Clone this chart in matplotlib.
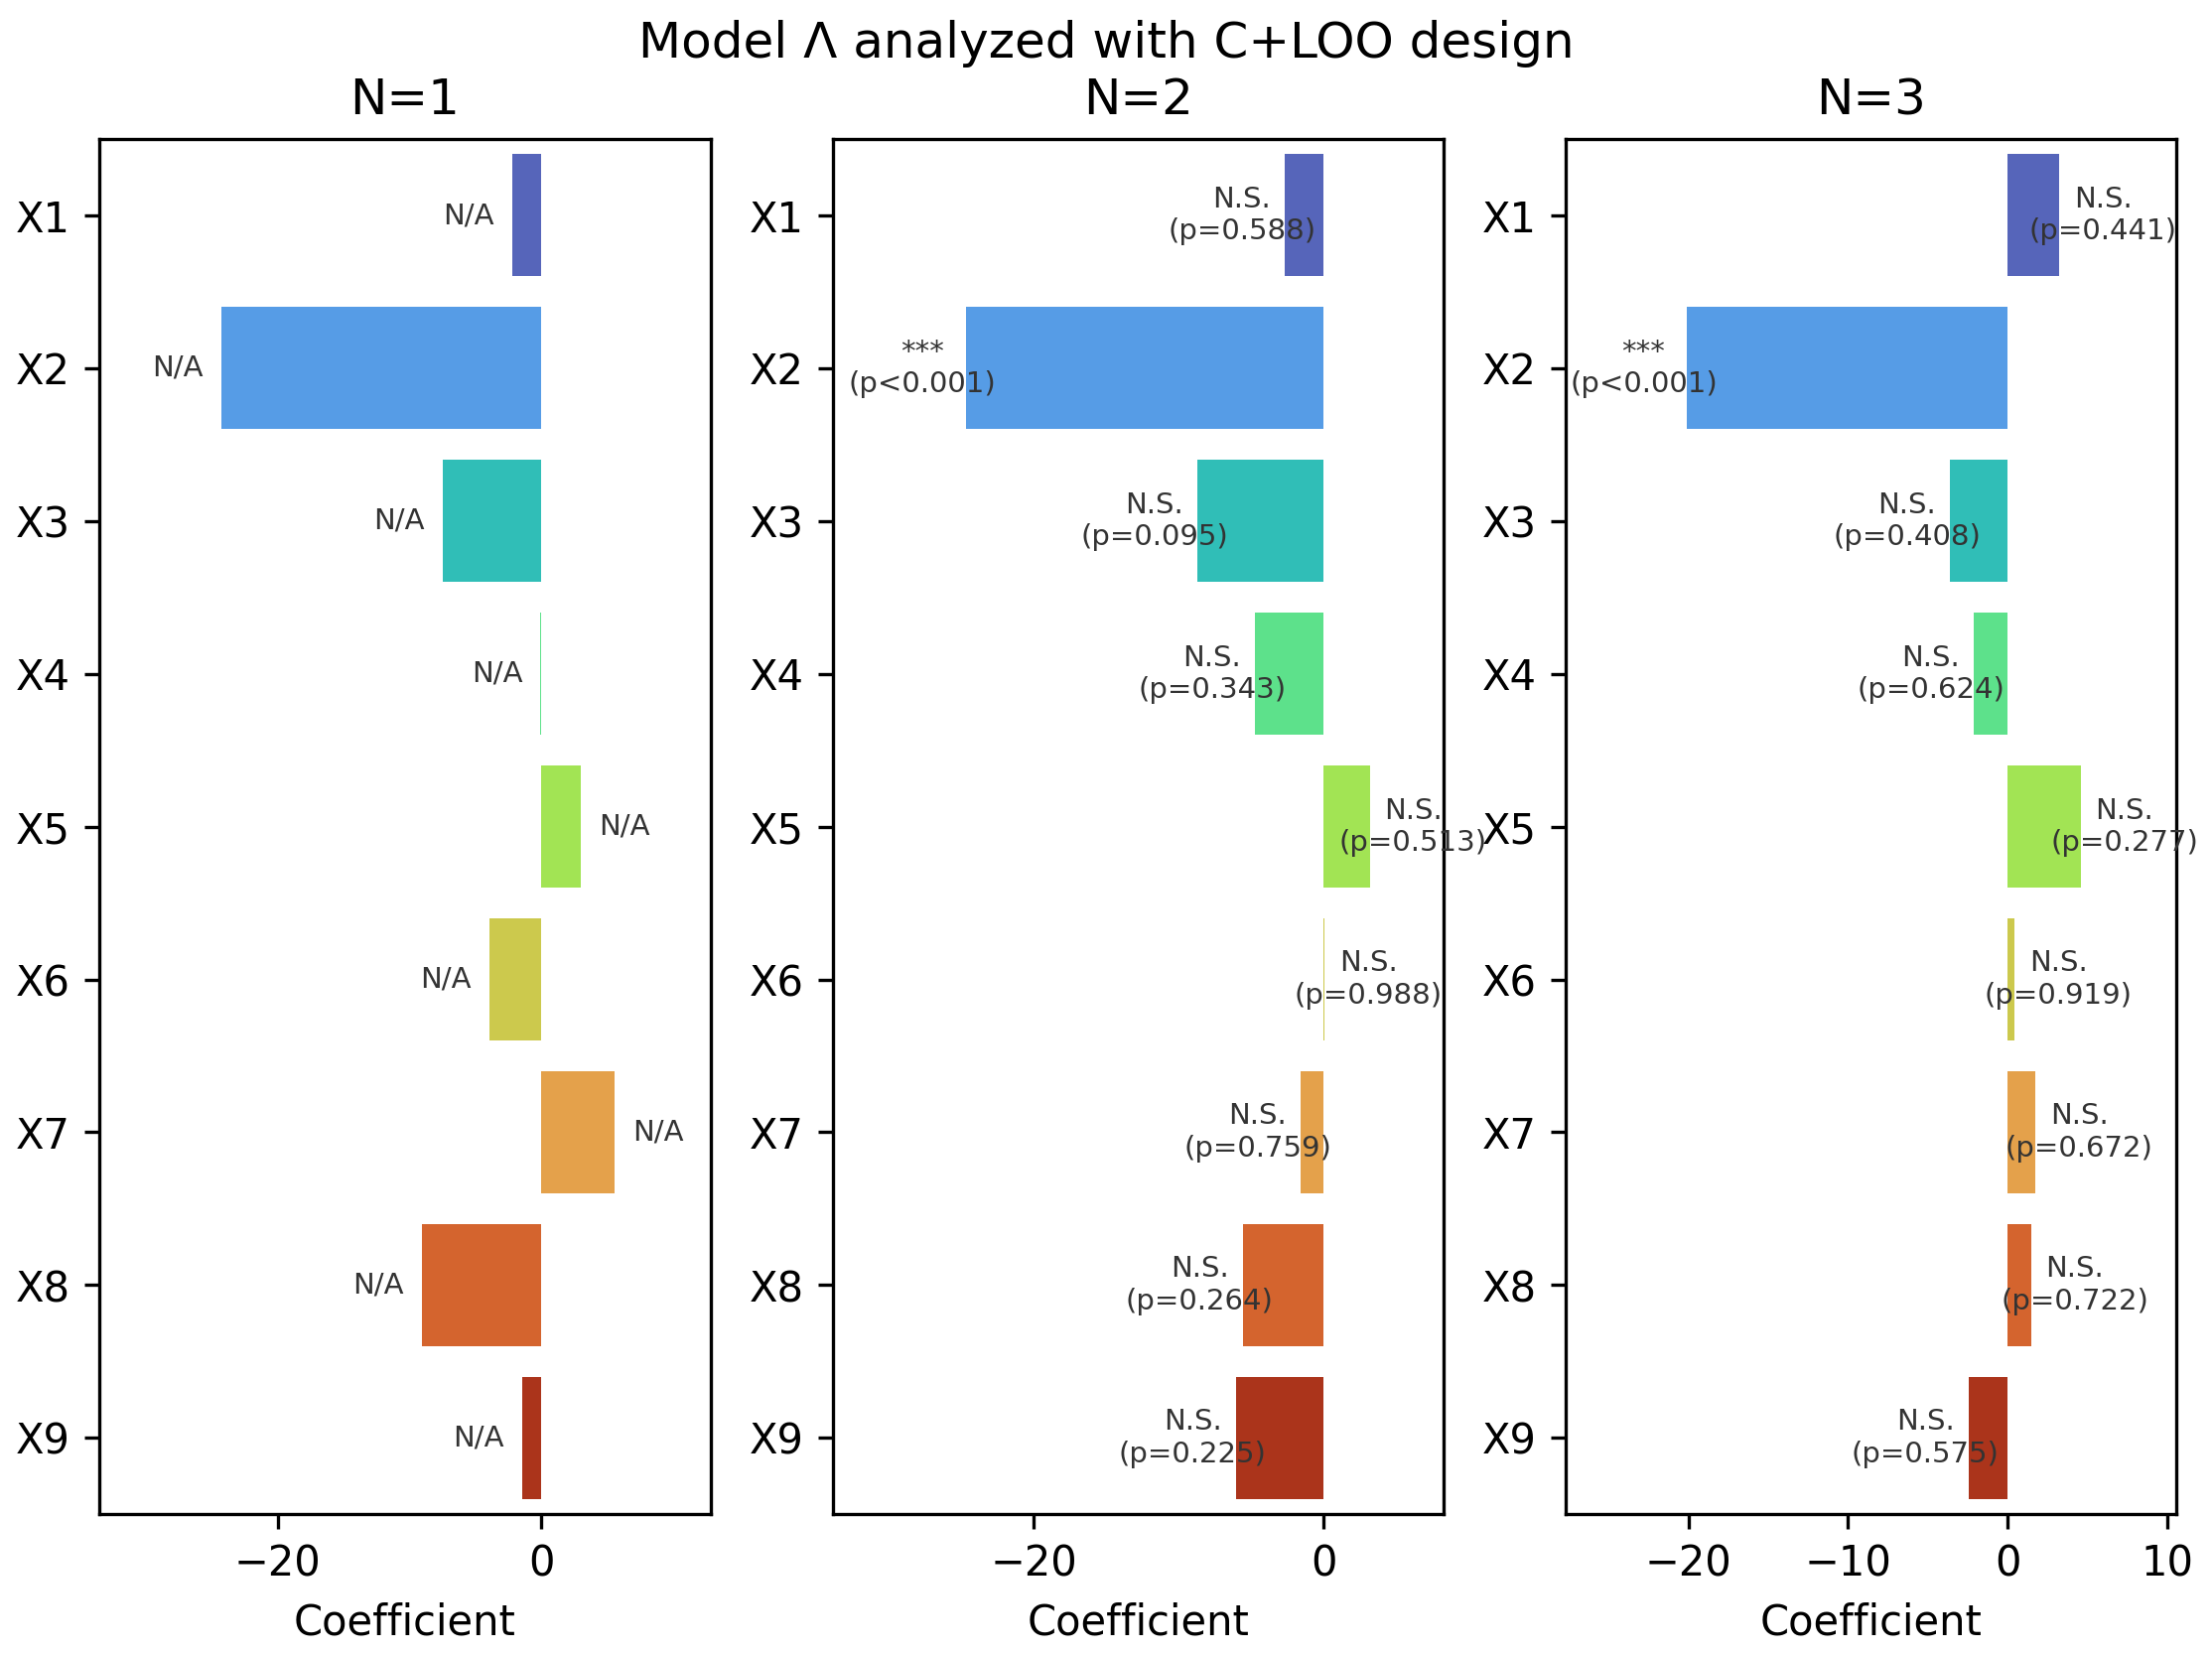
import matplotlib
matplotlib.use('Agg')
import matplotlib.pyplot as plt
import seaborn as sns
import numpy as np

# Data
variables = ['X1', 'X2', 'X3', 'X4', 'X5', 'X6', 'X7', 'X8', 'X9']
panel_titles = ['N=1', 'N=2', 'N=3']

coef_n1 = [-2.25, -24.3, -7.5, -0.1, 3.0, -3.95, 5.55, -9.1, -1.5]
coef_n2 = [-2.65, -24.7, -8.7, -4.7, 3.2, 0.1, -1.55, -5.55, -6.05]
coef_n3 = [3.25, -20.1, -3.6, -2.1, 4.6, 0.45, 1.75, 1.5, -2.45]

labels_n1 = ['N/A'] * 9
labels_n2 = ['N.S.\n(p=0.588)', '***\n(p<0.001)', 'N.S.\n(p=0.095)',
             'N.S.\n(p=0.343)', 'N.S.\n(p=0.513)', 'N.S.\n(p=0.988)',
             'N.S.\n(p=0.759)', 'N.S.\n(p=0.264)', 'N.S.\n(p=0.225)']
labels_n3 = ['N.S.\n(p=0.441)', '***\n(p<0.001)', 'N.S.\n(p=0.408)',
             'N.S.\n(p=0.624)', 'N.S.\n(p=0.277)', 'N.S.\n(p=0.919)',
             'N.S.\n(p=0.672)', 'N.S.\n(p=0.722)', 'N.S.\n(p=0.575)']

xlims = [(-33.5, 12.8), (-33.9, 8.3), (-27.7, 10.6)]

coefs = [coef_n1, coef_n2, coef_n3]
labels = [labels_n1, labels_n2, labels_n3]

# turbo palette, desaturated like seaborn bars
colors = [sns.desaturate(c, 0.75) for c in sns.color_palette('turbo', len(variables))]

fig, axes = plt.subplots(1, 3, figsize=(7.427, 5.557), dpi=300)
fig.subplots_adjust(left=0.045, right=0.984, bottom=0.085, top=0.916, wspace=0.2)

y = np.arange(len(variables))
for ax, title, vals, labs, xl in zip(axes, panel_titles, coefs, labels, xlims):
    ax.barh(y, vals, height=0.8, color=colors)
    for yi, v, lab in zip(y, vals, labs):
        offset = 10.5 if v >= 0 else -10.5
        ax.annotate(lab, xy=(v, yi), xytext=(offset, 0), textcoords='offset points',
                    ha='center', va='center', fontsize=7, color='#333333')
    ax.set_yticks(y)
    ax.set_yticklabels(variables)
    ax.set_ylim(len(variables) - 0.5, -0.5)
    ax.set_xlim(*xl)
    ax.set_title(title)
    ax.set_xlabel('Coefficient')

fig.suptitle('Model \u039b analyzed with C+LOO design', y=0.988)

plt.savefig('out.png', dpi=300)
